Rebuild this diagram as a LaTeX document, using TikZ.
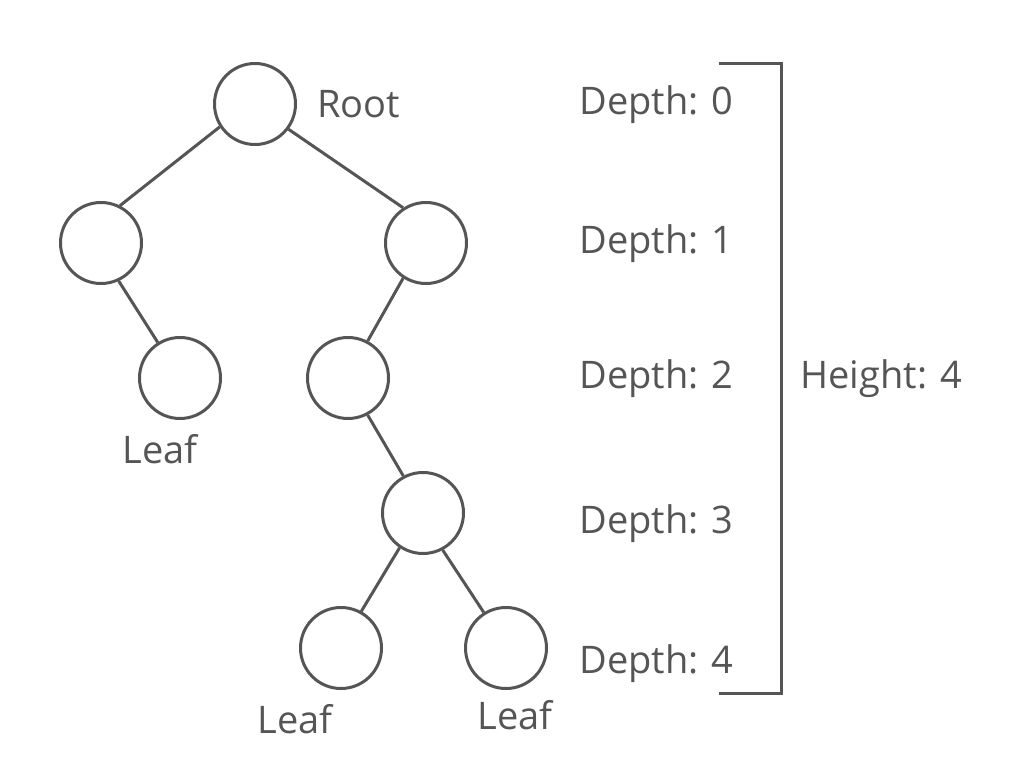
\documentclass[tikz,border=0pt]{standalone}
\usepackage{fontspec}
\setmainfont{Open Sans}
\definecolor{treegray}{HTML}{555555}

\begin{document}
\begin{tikzpicture}[x=1pt, y=-1pt, line width=3pt]
\tikzstyle{vertex}=[draw=treegray, shape=circle, minimum size=81pt, inner sep=0pt, line width=3pt];
\tikzstyle{tag}=[text=treegray, font=\fontsize{38}{44}\selectfont, inner sep=0pt];
\tikzstyle{depth}=[text=treegray, font=\fontsize{38}{46}\selectfont, inner sep=0pt, anchor=base west];
\useasboundingbox (0,0) rectangle (1031,765);
\path (255,104) node[vertex] (root) {}
      (101,243) node[vertex] (l1) {}
      (426,243) node[vertex] (r1) {}
      (180,378) node[vertex] (l2) {}
      (348,378) node[vertex] (r2) {}
      (423,513) node[vertex] (r3) {}
      (341,648) node[vertex] (l4) {}
      (506,648) node[vertex] (r4) {};
\draw[treegray]
(root.213) -- (l1.63) (root.-37) -- (r1.123)
(l1.-65) -- (l2.122) (r1.237) -- (r2.62)
(r2.-62) -- (r3.118)
(r3.236) -- (l4.61) (r3.-62) -- (r4.122)
;
\node[tag, anchor=base west] (rootlbl) at (316,118) {Root};
\node[tag, anchor=base] (leafa) at (160,463) {Leaf};
\node[tag, anchor=base] (leafb) at (295,733) {Leaf};
\node[tag, anchor=base] (leafc) at (515,729) {Leaf};
\foreach \d/\y in {0/115, 1/253, 2/388, 3/533, 4/673}
{
\node[depth] (d\d) at (578,\y) {Depth: \d};
}
\draw[treegray, line join=miter] (719,64) -- (781,64) -- (781,693) -- (719,693);
\node[depth] (height) at (799,388) {Height: 4};
\end{tikzpicture}
\end{document}
